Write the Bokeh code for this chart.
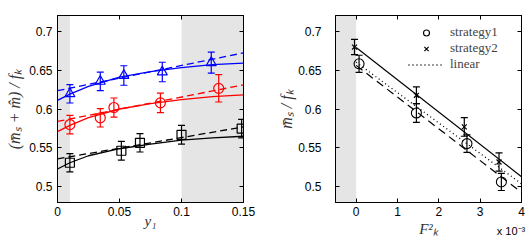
import numpy as np
from bokeh.plotting import figure
from bokeh.layouts import row
from bokeh.models import (ColumnDataSource, Whisker, TeeHead, BoxAnnotation, FixedTicker,
                          LinearAxis, Legend, LegendItem, Range1d)
from bokeh.embed import file_html
from bokeh.resources import INLINE

# ---------------- left panel data ----------------
blue_x = [0.01, 0.0345, 0.0535, 0.0845, 0.124]
blue_y = [0.6195, 0.6355, 0.643, 0.6475, 0.6595]
blue_err = [0.0118, 0.0118, 0.0125, 0.0125, 0.0135]

red_x = [0.01, 0.0345, 0.0455, 0.083, 0.13]
red_y = [0.580, 0.5887, 0.6019, 0.6079, 0.6265]
red_err = [0.0118, 0.0118, 0.0122, 0.0125, 0.0175]

black_x = [0.01, 0.0515, 0.0665, 0.1, 0.1485]
black_y = [0.531, 0.5464, 0.5566, 0.5669, 0.5748]
black_err = [0.0118, 0.012, 0.0118, 0.012, 0.0118]

fit_x = [0.0, 0.01, 0.025, 0.05, 0.075, 0.1, 0.125, 0.15]
blue_fit = [0.611, 0.619, 0.629, 0.641, 0.648, 0.653, 0.657, 0.659]
red_fit = [0.571, 0.579, 0.589, 0.600, 0.607, 0.612, 0.616, 0.618]
black_fit = [0.523, 0.531, 0.540, 0.549, 0.555, 0.560, 0.563, 0.565]

lin_x = [0.0, 0.15]
blue_lin = [0.6235, 0.672]
red_lin = [0.584, 0.631]
black_lin = [0.536, 0.577]

left_x_ticks = [0, 0.05, 0.1, 0.15]
left_x_labels = ["0", "0.05", "0.1", "0.15"]
y_ticks = [0.5, 0.55, 0.6, 0.65, 0.7]
y_labels = ["0.5", "0.55", "0.6", "0.65", "0.7"]
left_shade = [(0.0, 0.01), (0.1, 0.15)]

# ---------------- right panel data (F_K^2 in units of 1e-3) ----------------
s1_x = [0.07, 1.457, 2.68, 3.513]
s1_y = [0.658, 0.5949, 0.5556, 0.5064]
s1_err = [0.011, 0.012, 0.0113, 0.011]

s2_x = [-0.04, 1.457, 2.616, 3.456]
s2_y = [0.6795, 0.6176, 0.577, 0.532]
s2_err = [0.0098, 0.0107, 0.012, 0.0118]

line_x = [0.0, 4.0]
s2_line = [0.679, 0.513]
s1_line = [0.656, 0.493]
linear_line = [0.660, 0.504]

right_x_ticks = [0, 1, 2, 3, 4]
right_x_labels = ["0", "1", "2", "3", "4"]
right_shade = [(-0.5, 0.0)]
scale_text = "x 10⁻³"

GRAY = "#e5e5e5"
TICK_FONT = "Liberation Sans"
SERIF = "Liberation Serif"


def style(p, xticks, xlabels):
    p.outline_line_color = "black"
    p.outline_line_width = 1
    p.xgrid.visible = False
    p.ygrid.visible = False
    p.background_fill_color = "white"
    p.border_fill_color = "white"
    xa, ya = p.xaxis[0], p.yaxis[0]
    for ax in (xa, ya):
        ax.major_tick_in = 4
        ax.major_tick_out = 0
        ax.minor_tick_line_color = None
        ax.axis_line_color = "black"
        ax.major_label_text_font = TICK_FONT
        ax.major_label_text_font_size = "12px"
        ax.major_label_text_color = "black"
        ax.axis_label_text_font = SERIF
        ax.axis_label_text_font_style = "italic"
        ax.axis_label_text_font_size = "15px"
        ax.axis_label_text_color = "#333333"
    xa.ticker = FixedTicker(ticks=xticks)
    xa.major_label_overrides = {t: l for t, l in zip(xticks, xlabels)}
    ya.ticker = FixedTicker(ticks=y_ticks)
    ya.major_label_overrides = {t: l for t, l in zip(y_ticks, y_labels)}
    xa.major_label_standoff = 4
    ya.major_label_standoff = 5
    # mirrored tick axes (box style), no labels
    top = LinearAxis(ticker=FixedTicker(ticks=xticks), major_tick_in=4, major_tick_out=0,
                     minor_tick_line_color=None,
                     major_label_overrides={t: "" for t in xticks},
                     major_label_standoff=0, axis_line_color="black")
    right = LinearAxis(ticker=FixedTicker(ticks=y_ticks), major_tick_in=4, major_tick_out=0,
                       minor_tick_line_color=None,
                       major_label_overrides={t: "" for t in y_ticks},
                       major_label_standoff=0, axis_line_color="black")
    p.add_layout(top, "above")
    p.add_layout(right, "right")
    return xa, ya


def errbars(p, xs, ys, es, color):
    src = ColumnDataSource(dict(x=xs, lo=[y - e for y, e in zip(ys, es)],
                                hi=[y + e for y, e in zip(ys, es)]))
    w = Whisker(base="x", lower="lo", upper="hi", source=src, dimension="height",
                line_color=color, line_width=1.2,
                lower_head=TeeHead(size=7, line_color=color, line_width=1.2),
                upper_head=TeeHead(size=7, line_color=color, line_width=1.2))
    p.add_layout(w)


H = 244
# ---------------- left figure ----------------
p1 = figure(width=275, height=H, output_backend="svg", toolbar_location=None,
            x_range=Range1d(0, 0.15), y_range=Range1d(0.48, 0.72),
            min_border_left=57, min_border_right=32, min_border_top=15, min_border_bottom=42)
xa1, ya1 = style(p1, left_x_ticks, left_x_labels)
for a, b in left_shade:
    p1.add_layout(BoxAnnotation(left=a, right=b, fill_color=GRAY, fill_alpha=1,
                                line_alpha=0, level="underlay"))
xa1.axis_label = "y₁"
ya1.axis_label = "(m̄ₛ + m̂) / fₖ"
ya1.axis_label_text_font_size = "16px"
ya1.axis_label_standoff = 3
xa1.axis_label_standoff = -6

for fx, fy, lx, ly, col in ((fit_x, blue_fit, lin_x, blue_lin, "#0000ff"),
                            (fit_x, red_fit, lin_x, red_lin, "#ff0000"),
                            (fit_x, black_fit, lin_x, black_lin, "black")):
    p1.line(fx, fy, line_color=col, line_width=1.3)
    p1.line(lx, ly, line_color=col, line_width=1.3, line_dash="7 4")

errbars(p1, blue_x, blue_y, blue_err, "#0000ff")
errbars(p1, red_x, red_y, red_err, "#ff0000")
errbars(p1, black_x, black_y, black_err, "black")
p1.scatter(blue_x, blue_y, marker="triangle", size=10, fill_color=None, line_color="#0000ff", line_width=1.2)
p1.scatter(red_x, red_y, marker="circle", size=10, fill_color=None, line_color="#ff0000", line_width=1.2)
p1.scatter(black_x, black_y, marker="square", size=9, fill_color=None, line_color="black", line_width=1.2)

# ---------------- right figure ----------------
p2 = figure(width=255, height=H, output_backend="svg", toolbar_location=None,
            x_range=Range1d(-0.5, 4), y_range=Range1d(0.48, 0.72),
            min_border_left=59, min_border_right=9, min_border_top=15, min_border_bottom=42)
xa2, ya2 = style(p2, right_x_ticks, right_x_labels)
for a, b in right_shade:
    p2.add_layout(BoxAnnotation(left=a, right=b, fill_color=GRAY, fill_alpha=1,
                                line_alpha=0, level="underlay"))
xa2.axis_label = "F²ₖ"
ya2.axis_label = "m̄ₛ / fₖ"
ya2.axis_label_text_font_size = "16px"
ya2.axis_label_standoff = 0
ya2.major_label_standoff = 14
xa2.axis_label_standoff = 2

# exponent note under the right end of the x axis (as a tick label of an extra bare axis)
exp_axis = LinearAxis(ticker=FixedTicker(ticks=[right_x_ticks[-1]]),
                      major_label_overrides={right_x_ticks[-1]: scale_text},
                      major_label_text_align="right", major_label_text_font=TICK_FONT,
                      major_label_text_font_size="11px", major_label_text_color="black",
                      major_label_standoff=-21, major_tick_line_color=None,
                      minor_tick_line_color=None, axis_line_color=None)
p2.add_layout(exp_axis, "below")

r_s2l = p2.line(line_x, s2_line, line_color="black", line_width=1.2)
r_s1l = p2.line(line_x, s1_line, line_color="black", line_width=1.2, line_dash="8 5")
r_lin = p2.line(line_x, linear_line, line_color="black", line_width=1.3, line_dash="1 3")
errbars(p2, s1_x, s1_y, s1_err, "black")
errbars(p2, s2_x, s2_y, s2_err, "black")
r_s1 = p2.scatter(s1_x, s1_y, marker="circle", size=10, fill_color=None, line_color="black", line_width=1.1)
r_s2 = p2.scatter(s2_x, s2_y, marker="x", size=7, line_color="black", line_width=1.2)

leg = Legend(items=[LegendItem(label="strategy1", renderers=[r_s1]),
                    LegendItem(label="strategy2", renderers=[r_s2]),
                    LegendItem(label="linear", renderers=[r_lin])],
             location=(71, 128), border_line_alpha=0, background_fill_alpha=0,
             label_text_font=SERIF, label_text_font_size="13px", glyph_width=36,
             glyph_height=15, label_height=15, spacing=0, padding=2, margin=0,
             label_standoff=6)
p2.add_layout(leg)

layout = row(p1, p2)
open("out.html", "w").write(file_html(layout, INLINE))
